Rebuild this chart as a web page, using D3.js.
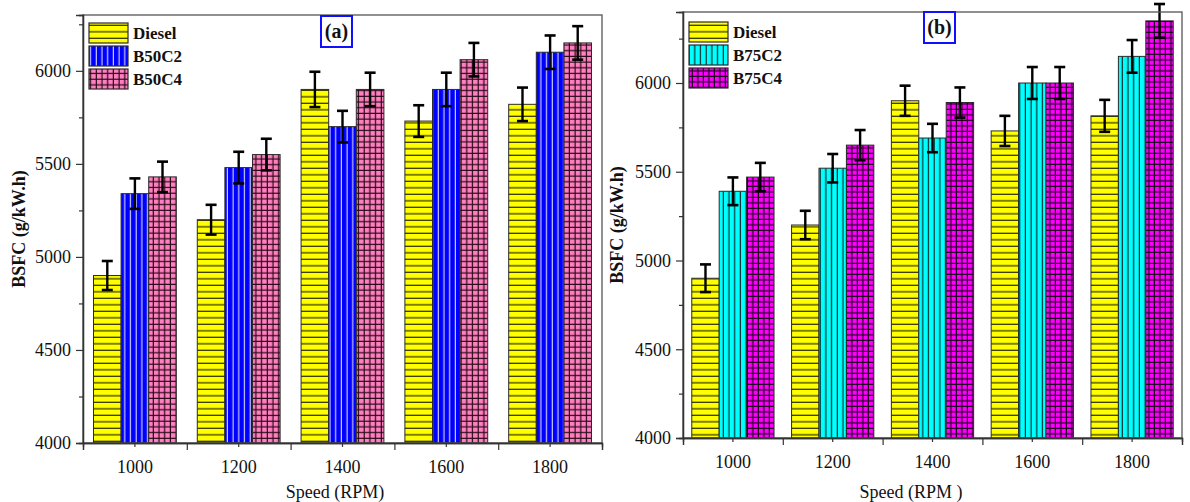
<!DOCTYPE html>
<html>
<head>
<meta charset="utf-8">
<script src="https://cdn.jsdelivr.net/npm/d3@7"></script>
<style>
  html, body { margin: 0; padding: 0; background: #fff; }
  svg { display: block; }
  text { font-family: "Liberation Serif", "DejaVu Serif", serif; fill: #111; }
</style>
</head>
<body>
<svg id="chart" width="1190" height="502"></svg>
<script>
// ---------- data ----------
const categories = ["1000", "1200", "1400", "1600", "1800"];

const seriesNamesA = ["Diesel", "B50C2", "B50C4"];
const dieselA = [4900, 5200, 5900, 5730, 5820];
const b50c2   = [5340, 5480, 5700, 5900, 6100];
const b50c4   = [5430, 5550, 5900, 6060, 6150];
const errDieselA = [78, 80, 95, 85, 90];
const errB50C2   = [82, 85, 85, 90, 90];
const errB50C4   = [82, 85, 90, 90, 90];

const seriesNamesB = ["Diesel", "B75C2", "B75C4"];
const dieselB = [4900, 5200, 5900, 5730, 5815];
const b75c2   = [5390, 5520, 5690, 6000, 6150];
const b75c4   = [5470, 5650, 5890, 6000, 6350];
const errDieselB = [78, 80, 85, 85, 90];
const errB75C2   = [78, 80, 80, 90, 92];
const errB75C4   = [80, 85, 85, 90, 95];

const yTickLabels = [4000, 4500, 5000, 5500, 6000];
const yMinorTicks = [4250, 4750, 5250, 5750, 6250];

// ---------- drawing ----------
const svg = d3.select("#chart");
const defs = svg.append("defs");

function hLines(id, bg, color, step, w) {
  const p = defs.append("pattern").attr("id", id).attr("patternUnits", "userSpaceOnUse")
    .attr("width", 8).attr("height", step);
  p.append("rect").attr("width", 8).attr("height", step).attr("fill", bg);
  p.append("rect").attr("x", 0).attr("y", step - w).attr("width", 8).attr("height", w).attr("fill", color);
}
function vLines(id, bg, color, step, w) {
  const p = defs.append("pattern").attr("id", id).attr("patternUnits", "userSpaceOnUse")
    .attr("width", step).attr("height", 8);
  p.append("rect").attr("width", step).attr("height", 8).attr("fill", bg);
  p.append("rect").attr("x", step - w).attr("y", 0).attr("width", w).attr("height", 8).attr("fill", color);
}
function grid(id, bg, color, step, w) {
  const p = defs.append("pattern").attr("id", id).attr("patternUnits", "userSpaceOnUse")
    .attr("width", step).attr("height", step);
  p.append("rect").attr("width", step).attr("height", step).attr("fill", bg);
  p.append("rect").attr("x", step - w).attr("y", 0).attr("width", w).attr("height", step).attr("fill", color);
  p.append("rect").attr("x", 0).attr("y", step - w).attr("width", step).attr("height", w).attr("fill", color);
}
hLines("pDiesel", "#ffff00", "#3a3a00", 6.5, 1.3);
vLines("pBlue", "#0000ff", "#c8c8ff", 5.7, 1.2);
grid("pPink", "#ff80c0", "#2a0a18", 5.7, 1.2);
vLines("pCyan", "#00ffff", "#063030", 5.7, 1.2);
grid("pMag", "#ff00ff", "#200020", 5.5, 1.2);

function drawPanel(cfg) {
  const g = svg.append("g");
  const x = d3.scaleBand().domain(categories).range([cfg.left, cfg.right]).padding(0);
  const xs = d3.scaleBand().domain([0, 1, 2]).range([0, x.bandwidth()]).paddingInner(0).paddingOuter(cfg.outer);
  const y = d3.scaleLinear().domain(cfg.yDomain).range([cfg.bottom, cfg.top]);

  // bars
  cfg.series.forEach((s, si) => {
    g.selectAll(null).data(s.values).enter().append("rect")
      .attr("x", (d, i) => x(categories[i]) + xs(si))
      .attr("y", d => y(d))
      .attr("width", xs.bandwidth())
      .attr("height", d => y(cfg.yDomain[0]) - y(d))
      .attr("fill", `url(#${s.pattern})`)
      .attr("stroke", "#2b2b2b").attr("stroke-width", 1);
  });
  // error bars
  cfg.series.forEach((s, si) => {
    const cx = i => x(categories[i]) + xs(si) + xs.bandwidth() / 2;
    s.values.forEach((v, i) => {
      const e = s.err[i];
      g.append("line").attr("x1", cx(i)).attr("x2", cx(i)).attr("y1", y(v + e)).attr("y2", y(v - e))
        .attr("stroke", "#000").attr("stroke-width", 2.4);
      [v + e, v - e].forEach(t => {
        g.append("line").attr("x1", cx(i) - 5.5).attr("x2", cx(i) + 5.5).attr("y1", y(t)).attr("y2", y(t))
          .attr("stroke", "#000").attr("stroke-width", 2.6);
      });
    });
  });

  // frame
  g.append("rect").attr("x", cfg.left).attr("y", cfg.top)
    .attr("width", cfg.right - cfg.left).attr("height", cfg.bottom - cfg.top)
    .attr("fill", "none").attr("stroke", "#555").attr("stroke-width", 1.3);

  // y axis
  const yAx = g.append("g").attr("transform", `translate(${cfg.left},0)`)
    .call(d3.axisLeft(y).tickValues(yTickLabels).tickSize(7).tickPadding(5).tickFormat(d3.format("d")));
  g.append("g").attr("transform", `translate(${cfg.left},0)`)
    .call(d3.axisLeft(y).tickValues(yMinorTicks).tickSize(4).tickFormat(""));
  // x axis
  const xl = d3.scaleLinear().domain([0, categories.length]).range([cfg.left, cfg.right]);
  g.append("g").attr("transform", `translate(0,${cfg.bottom})`)
    .call(d3.axisBottom(xl).tickValues(d3.range(0, categories.length + 1)).tickSize(7).tickFormat(""));
  const xAx = g.append("g").attr("transform", `translate(0,${cfg.bottom})`)
    .call(d3.axisBottom(x).tickSize(4).tickPadding(cfg.xPad));
  g.selectAll(".domain").attr("stroke", "#333").attr("stroke-width", 1.3);
  g.selectAll(".tick line").attr("stroke", "#333").attr("stroke-width", 1.2);
  g.selectAll(".tick text").attr("font-size", 18).attr("font-family", "Liberation Serif").attr("fill", "#111");

  // axis titles
  g.append("text").attr("x", cfg.xTitleX).attr("y", 498).attr("text-anchor", "middle")
    .attr("font-size", 18).text(cfg.xTitle);
  g.append("text").attr("transform", `translate(${cfg.yTitleX},${(cfg.top + cfg.bottom) / 2}) rotate(-90)`)
    .attr("text-anchor", "middle").attr("font-size", 18).attr("font-weight", "bold").text("BSFC (g/kW.h)");

  // legend
  cfg.series.forEach((s, si) => {
    const ly = cfg.legY + si * 23;
    g.append("rect").attr("x", cfg.legX).attr("y", ly).attr("width", 39).attr("height", 20)
      .attr("fill", `url(#${s.pattern})`).attr("stroke", "#2b2b2b").attr("stroke-width", 1.2);
    g.append("text").attr("x", cfg.legX + 44).attr("y", ly + 16).attr("font-size", 17)
      .attr("font-weight", "bold").text(s.name);
  });

  // panel label
  g.append("rect").attr("x", cfg.lab[0]).attr("y", cfg.lab[1]).attr("width", 31).attr("height", 31)
    .attr("fill", "#fff").attr("stroke", "#1010ff").attr("stroke-width", 2);
  g.append("text").attr("x", cfg.lab[0] + 15.5).attr("y", cfg.lab[1] + 22).attr("text-anchor", "middle")
    .attr("font-size", 20).attr("font-weight", "bold").text(cfg.label);
}

drawPanel({
  left: 83, right: 602, top: 15, bottom: 443, yDomain: [4000, 6300], outer: 0.38, xPad: 13,
  series: [
    { name: seriesNamesA[0], values: dieselA, err: errDieselA, pattern: "pDiesel" },
    { name: seriesNamesA[1], values: b50c2, err: errB50C2, pattern: "pBlue" },
    { name: seriesNamesA[2], values: b50c4, err: errB50C4, pattern: "pPink" }
  ],
  xTitle: "Speed (RPM)", xTitleX: 335, yTitleX: 25,
  legX: 89, legY: 23, lab: [321, 16], label: "(a)"
});
drawPanel({
  left: 683, right: 1182, top: 12, bottom: 438, yDomain: [4000, 6400], outer: 0.32, xPad: 13,
  series: [
    { name: seriesNamesB[0], values: dieselB, err: errDieselB, pattern: "pDiesel" },
    { name: seriesNamesB[1], values: b75c2, err: errB75C2, pattern: "pCyan" },
    { name: seriesNamesB[2], values: b75c4, err: errB75C4, pattern: "pMag" }
  ],
  xTitle: "Speed (RPM )", xTitleX: 911, yTitleX: 623,
  legX: 689, legY: 22, lab: [924, 12], label: "(b)"
});
</script>
</body>
</html>
